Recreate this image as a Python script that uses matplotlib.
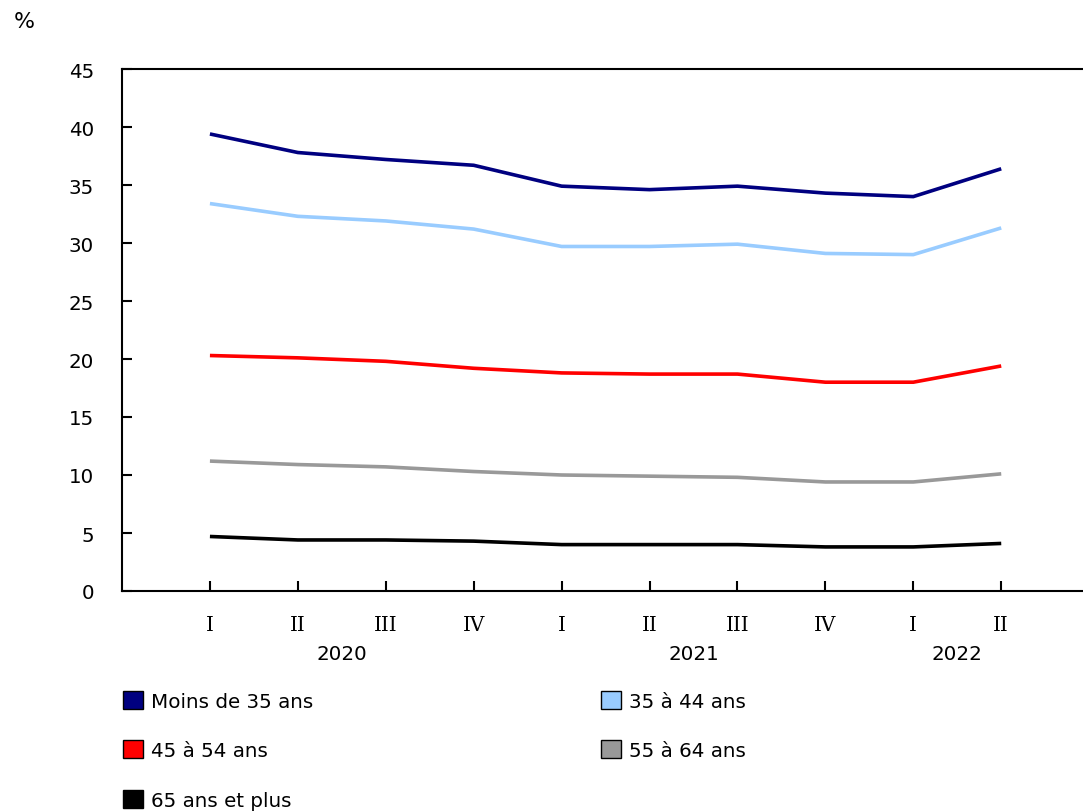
import numpy as np
import matplotlib
matplotlib.use("Agg")
import matplotlib.pyplot as plt
from matplotlib.patches import Patch
from matplotlib.transforms import blended_transform_factory

# --------------------------------------------------
# Data
# --------------------------------------------------

quarters = ["I", "II", "III", "IV", "I", "II", "III", "IV", "I", "II"]
years = ["2020", "2021", "2022"]
year_centers = [1.5, 5.5, 8.5]

moins_35 = [39.4, 37.8, 37.2, 36.7, 34.9, 34.6, 34.9, 34.3, 34.0, 36.4]
ans_35_44 = [33.4, 32.3, 31.9, 31.2, 29.7, 29.7, 29.9, 29.1, 29.0, 31.3]
ans_45_54 = [20.3, 20.1, 19.8, 19.2, 18.8, 18.7, 18.7, 18.0, 18.0, 19.4]
ans_55_64 = [11.2, 10.9, 10.7, 10.3, 10.0, 9.9, 9.8, 9.4, 9.4, 10.1]
ans_65_plus = [4.7, 4.4, 4.4, 4.3, 4.0, 4.0, 4.0, 3.8, 3.8, 4.1]

series = [
    ("Moins de 35 ans", moins_35, "#000080"),
    ("35 à 44 ans", ans_35_44, "#99CCFF"),
    ("45 à 54 ans", ans_45_54, "#FF0000"),
    ("55 à 64 ans", ans_55_64, "#999999"),
    ("65 ans et plus", ans_65_plus, "#000000"),
]

# --------------------------------------------------
# Plot
# --------------------------------------------------

FS = 14.3
plt.rcParams["font.family"] = ["DejaVu Sans"]
plt.rcParams["font.size"] = FS

fig = plt.figure(figsize=(10.83, 8.12), dpi=100)
ax = fig.add_axes([122 / 1083, 1 - 592 / 812, 1 - 122 / 1083, (592 - 70) / 812])

x = np.arange(len(quarters))
for label, vals, color in series:
    ax.plot(x, vals, color=color, lw=2.6, solid_capstyle="butt")

ax.set_xlim(-1, 9.93)
ax.set_ylim(0, 45)
ax.set_yticks(np.arange(0, 46, 5))
ax.set_xticks(x)
ax.set_xticklabels(quarters, family="DejaVu Serif", fontsize=FS)

ax.spines["right"].set_visible(False)
for s in ["left", "top", "bottom"]:
    ax.spines[s].set_linewidth(1.5)
ax.tick_params(axis="y", direction="in", length=7, width=1.5, pad=20, labelsize=FS)
ax.tick_params(axis="x", direction="in", length=7, width=1.5, pad=17)

trans = blended_transform_factory(ax.transData, ax.transAxes)
for yr, xc in zip(years, year_centers):
    ax.text(xc, -0.12, yr, transform=trans, ha="center", va="center", fontsize=FS)

fig.text(24 / 1083, 1 - 22 / 812, "%", ha="center", va="center", fontsize=FS + 1.5)

# legend: fill rows left-to-right
handles = {lab: Patch(facecolor=c, edgecolor="black", lw=1) for lab, _, c in series}
order = ["Moins de 35 ans", "45 à 54 ans", "65 ans et plus", "35 à 44 ans", "55 à 64 ans"]
fig.legend([handles[o] for o in order], order, loc="upper left",
           bbox_to_anchor=(115 / 1083, 1 - 684 / 812), ncol=2, frameon=False,
           handlelength=1.0, handleheight=1.0, handletextpad=0.4,
           labelspacing=1.5, columnspacing=14.5, borderaxespad=0, fontsize=FS)

fig.savefig("out.png", dpi=100)
